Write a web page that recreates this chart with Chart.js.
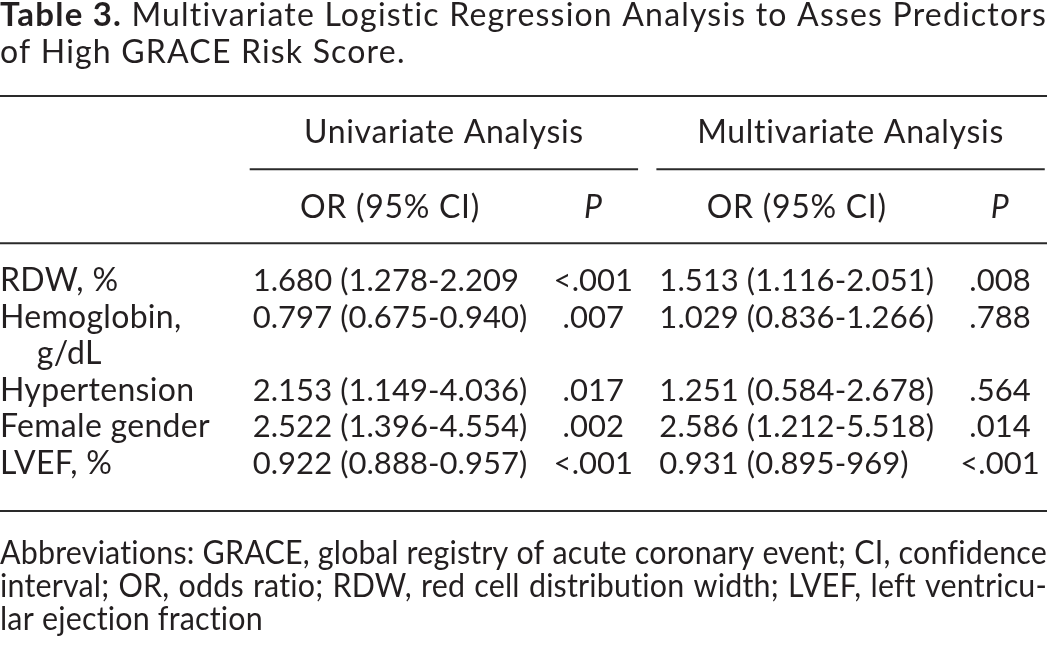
<!DOCTYPE html>
<html>
<head>
<meta charset="utf-8">
<script src="https://cdn.jsdelivr.net/npm/chart.js@4.4.1/dist/chart.umd.min.js"></script>
<style>
  html, body { margin: 0; padding: 0; background: #ffffff; }
  #wrap { width: 1047px; height: 650px; position: relative; }
</style>
</head>
<body>
<div id="wrap"><canvas id="chart"></canvas></div>
<script>
// ---------- DATA ----------
const titleBold = 'Table 3.';
const titleText = ['Multivariate Logistic Regression Analysis to Asses Predictors', 'of High GRACE Risk Score.'];
const groupHeaders = ['Univariate Analysis', 'Multivariate Analysis'];
const columnHeaders = ['OR (95% CI)', 'P', 'OR (95% CI)', 'P'];
const rowLabels = [['RDW, %'], ['Hemoglobin,', 'g/dL'], ['Hypertension'], ['Female gender'], ['LVEF, %']];
const uniOR = ['1.680 (1.278-2.209', '0.797 (0.675-0.940)', '2.153 (1.149-4.036)', '2.522 (1.396-4.554)', '0.922 (0.888-0.957)'];
const uniP = ['<.001', '.007', '.017', '.002', '<.001'];
const multiOR = ['1.513 (1.116-2.051)', '1.029 (0.836-1.266)', '1.251 (0.584-2.678)', '2.586 (1.212-5.518)', '0.931 (0.895-969)'];
const multiP = ['.008', '.788', '.564', '.014', '<.001'];
const footnote = ['Abbreviations: GRACE, global registry of acute coronary event; CI, confidence',
                  'interval; OR, odds ratio; RDW, red cell distribution width; LVEF, left ventricu-',
                  'lar ejection fraction'];

// ---------- LAYOUT (axis units: x = column slots, y = table text lines) ----------
const FONT = 'Lato, "Open Sans", sans-serif';
const INK = '#231f20';
const RULE = '#2a2a2a';
const X_MIN = -1.918, X_MAX = 3.231;
const Y_MIN = -7.95, Y_MAX = 9.81;
const Y_TITLE = [-7.227, -6.216];
const Y_TOP_RULE = -5.328;
const Y_GROUP = -4.036;
const Y_SPAN_RULE = -3.325;
const Y_COLHEAD = -1.995;
const Y_HEAD_RULE = -1.303;
const Y_BOTTOM_RULE = 6.011;
const Y_FOOT = [7.47, 8.37, 9.25];
const GROUP_LEFT = 0.69, GROUP_RIGHT = 0.22;

const STYLE = {
  title:  { size: 33, ls: 1.2 },
  head:   { size: 32, ls: 0.7 },
  label:  { size: 32, ls: 0.3 },
  value:  { size: 31, ls: 0.05 },
  foot:   { size: 32, ls: 0.2 }
};

// line index of each row (multi-line labels push following rows down)
const rowLine = [];
{ let k = 0; rowLabels.forEach(r => { rowLine.push(k); k += r.length; }); }

const columns = [
  { texts: uniOR, align: 'block' },
  { texts: uniP, align: 'center' },
  { texts: multiOR, align: 'block' },
  { texts: multiP, align: 'center' }
];
const groups = [[0, 1], [2, 3]];

function ruleDataset(x0, x1, y) {
  return { type: 'line', data: [{ x: x0, y }, { x: x1, y }], showLine: true, borderColor: RULE,
           borderWidth: 2, pointRadius: 0, pointHoverRadius: 0, fill: false, clip: false };
}

const datasets = [];
datasets.push(ruleDataset(X_MIN, X_MAX, Y_TOP_RULE));
groups.forEach(g => datasets.push(ruleDataset(g[0] - GROUP_LEFT, Math.min(X_MAX, g[1] + GROUP_RIGHT), Y_SPAN_RULE)));
datasets.push(ruleDataset(X_MIN, X_MAX, Y_HEAD_RULE));
datasets.push(ruleDataset(X_MIN, X_MAX, Y_BOTTOM_RULE));
datasets.push({ type: 'scatter', pointRadius: 0,
  data: groups.map(g => ({ x: ((g[0] - GROUP_LEFT) + Math.min(X_MAX, g[1] + GROUP_RIGHT)) / 2, y: Y_GROUP })),
  cellTexts: groupHeaders, cellAlign: 'center', cellStyle: STYLE.head });
datasets.push({ type: 'scatter', pointRadius: 0,
  data: columnHeaders.map((h, i) => ({ x: i, y: Y_COLHEAD })),
  cellTexts: columnHeaders, cellAlign: 'center', cellStyle: STYLE.head,
  cellItalic: columnHeaders.map(h => h === 'P') });
{
  const pts = [], txt = [], ind = [];
  rowLabels.forEach((lines, r) => lines.forEach((t, j) => { pts.push({ x: X_MIN, y: rowLine[r] + j }); txt.push(t); ind.push(j > 0); }));
  datasets.push({ type: 'scatter', pointRadius: 0, data: pts, cellTexts: txt, cellAlign: 'left',
                  cellStyle: STYLE.label, cellIndent: ind });
}
columns.forEach((c, ci) => {
  datasets.push({ type: 'scatter', pointRadius: 0,
    data: c.texts.map((t, r) => ({ x: ci, y: rowLine[r] })),
    cellTexts: c.texts, cellAlign: c.align, cellStyle: STYLE.value });
});

function setFont(ctx, st, prefix) {
  ctx.font = (prefix || '') + st.size + 'px ' + FONT;
  if ('letterSpacing' in ctx) ctx.letterSpacing = st.ls + 'px';
}

function drawJustified(ctx, text, x0, x1, y, sx, justify) {
  const words = text.split(' ');
  const ws = words.map(w => ctx.measureText(w).width * sx);
  const space = ctx.measureText(' ').width * sx;
  const total = ws.reduce((a, b) => a + b, 0);
  const gap = justify && words.length > 1 ? (x1 - x0 - total) / (words.length - 1) : space;
  let x = x0;
  words.forEach((w, i) => {
    ctx.save(); ctx.translate(x, y); ctx.scale(sx, 1); ctx.fillText(w, 0, 0); ctx.restore();
    x += ws[i] + gap;
  });
}
function fitScale(ctx, lines, width) {
  let sx = 1;
  lines.forEach(line => { sx = Math.min(sx, width / ctx.measureText(line).width); });
  return sx;
}

const tablePlugin = {
  id: 'tableText',
  afterDatasetsDraw(chart) {
    const ctx = chart.ctx, xs = chart.scales.x, ys = chart.scales.y;
    ctx.save();
    ctx.fillStyle = INK;
    ctx.textBaseline = 'alphabetic';
    chart.data.datasets.forEach((ds, di) => {
      if (!ds.cellTexts) return;
      const meta = chart.getDatasetMeta(di);
      setFont(ctx, ds.cellStyle);
      let blockW = 0;
      if (ds.cellAlign === 'block') blockW = Math.max(...ds.cellTexts.map(t => ctx.measureText(t).width));
      meta.data.forEach((el, i) => {
        const t = ds.cellTexts[i];
        if (!t) return;
        setFont(ctx, ds.cellStyle, ds.cellItalic && ds.cellItalic[i] ? 'italic ' : '');
        let x = el.x;
        if (ds.cellAlign === 'block') { ctx.textAlign = 'left'; x = el.x - blockW / 2; }
        else ctx.textAlign = ds.cellAlign;
        if (ds.cellIndent && ds.cellIndent[i]) x += 1.15 * ds.cellStyle.size;
        ctx.fillText(t, x, el.y);
      });
    });

    const left = xs.getPixelForValue(X_MIN), right = xs.getPixelForValue(X_MAX);
    ctx.textAlign = 'left';
    // title
    setFont(ctx, STYLE.title, 'bold ');
    const bw = ctx.measureText(titleBold).width;
    const ty = ys.getPixelForValue(Y_TITLE[0]);
    ctx.fillText(titleBold, left, ty);
    setFont(ctx, STYLE.title);
    const sp = ctx.measureText(' ').width;
    const tsx = Math.min(1, (right - left - bw - sp) / ctx.measureText(titleText[0]).width);
    drawJustified(ctx, titleText[0], left + bw + sp * tsx, right, ty, tsx, true);
    drawJustified(ctx, titleText[1], left, right, ys.getPixelForValue(Y_TITLE[1]), tsx, false);

    // footnote (justified, condensed to fit)
    setFont(ctx, STYLE.foot);
    const fsx = fitScale(ctx, footnote.slice(0, -1), right - left);
    footnote.forEach((line, i) => drawJustified(ctx, line, left, right, ys.getPixelForValue(Y_FOOT[i]), fsx, i < footnote.length - 1));
    ctx.restore();
  }
};

function build() {
  new Chart(document.getElementById('chart'), {
    type: 'scatter',
    data: { datasets },
    options: {
      responsive: true,
      maintainAspectRatio: false,
      animation: false,
      events: [],
      layout: { padding: 0 },
      plugins: { legend: { display: false }, tooltip: { enabled: false }, title: { display: false } },
      scales: {
        x: { type: 'linear', display: false, min: X_MIN, max: X_MAX },
        y: { type: 'linear', display: false, min: Y_MIN, max: Y_MAX, reverse: true }
      }
    },
    plugins: [tablePlugin]
  });
}
if (document.fonts && document.fonts.load) {
  Promise.all([document.fonts.load('32px Lato'), document.fonts.load('bold 32px Lato'), document.fonts.load('italic 32px Lato')])
    .then(build, build);
} else build();
</script>
</body>
</html>
